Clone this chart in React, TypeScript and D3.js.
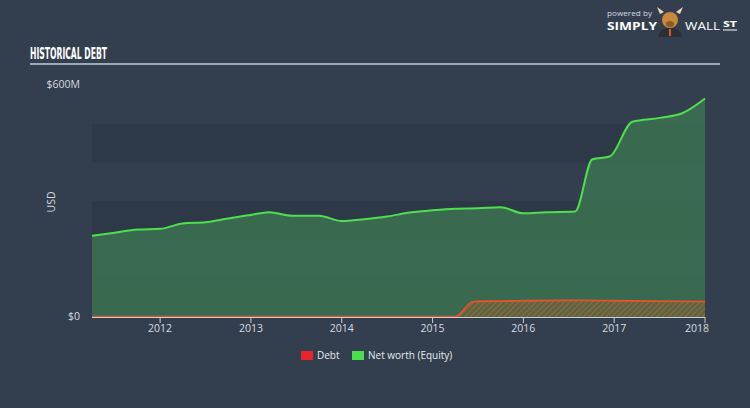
import React from "react";
import * as d3 from "d3";

const netYears = [2011.25, 2011.5, 2011.75, 2012.0, 2012.25, 2012.5, 2012.75, 2013.0, 2013.2, 2013.45, 2013.75, 2014.0, 2014.25, 2014.5, 2014.75, 2015.0, 2015.25, 2015.5, 2015.75, 2016.0, 2016.25, 2016.57, 2016.76, 2016.95, 2017.2, 2017.5, 2017.75, 2018.0];
const netValues = [210, 218, 226, 228, 242, 245, 255, 264, 271, 262, 262, 248, 253, 260, 270, 276, 280, 281, 284, 268, 271, 273, 408, 415, 505, 515, 527, 565];
const debtYears = [2011.25, 2012.0, 2013.0, 2014.0, 2015.0, 2015.25, 2015.45, 2015.75, 2016.0, 2016.5, 2017.0, 2017.5, 2018.0];
const debtValues = [1, 1, 1, 1, 1, 1, 40, 41, 42, 43, 42, 41, 40];
const yearTicks = [2012, 2013, 2014, 2015, 2016, 2017, 2018];
const bandStarts = [0, 200, 400];

const W = 750, H = 408;

export default function App() {
  const x = d3.scaleLinear().domain([2011.25, 2018.0]).range([92, 705]);
  const y = d3.scaleLinear().domain([0, 600]).range([317, 85]);
  const net = netYears.map((t, i) => ({ t, v: netValues[i] }));
  const debt = debtYears.map((t, i) => ({ t, v: debtValues[i] }));
  const area = d3.area<{ t: number; v: number }>().x(d => x(d.t)).y0(y(0)).y1(d => y(d.v)).curve(d3.curveMonotoneX);
  const line = d3.line<{ t: number; v: number }>().x(d => x(d.t)).y(d => y(d.v)).curve(d3.curveMonotoneX);
  const font = "'Open Sans', 'DejaVu Sans', sans-serif";
  return (
    <svg width={W} height={H} style={{ position: "absolute", left: 0, top: 0, display: "block" }}>
      <defs>
        <pattern id="hatch" width="4" height="4" patternUnits="userSpaceOnUse" patternTransform="rotate(45)">
          <rect width="4" height="4" fill="#4f6a45" />
          <line x1="0" y1="0" x2="0" y2="4" stroke="#d9542c" strokeWidth="1.6" />
        </pattern>
      </defs>
      <rect width={W} height={H} fill="#333f4f" />
      {/* header */}
      <text x={30} y={59} fill="#ffffff" fontFamily="'DejaVu Sans Condensed', 'Liberation Sans Narrow', sans-serif" fontWeight="bold" fontSize={16} textLength={77} lengthAdjust="spacingAndGlyphs">HISTORICAL DEBT</text>
      <line x1={30} x2={720} y1={64} y2={64} stroke="#c6ced8" strokeWidth={1.5} />
      {/* logo */}
      <text x={607} y={16} fill="#d6dbe0" fontFamily={font} fontSize={8} textLength={45} lengthAdjust="spacingAndGlyphs">powered by</text>
      <text x={607} y={30} fill="#ffffff" fontFamily={font} fontWeight="bold" fontSize={11} textLength={50} lengthAdjust="spacingAndGlyphs">SIMPLY</text>
      <g>
        <path d="M660 14 L657 7 L664 12 Z M680 14 L683 7 L676 12 Z" fill="#e8d9b8" />
        <ellipse cx={670} cy={20} rx={8} ry={8} fill="#c8893a" />
        <ellipse cx={670} cy={24} rx={4} ry={3} fill="#8a5a2a" />
        <path d="M658 37 Q660 27 670 28 Q680 27 682 37 Z" fill="#2a2f35" />
        <path d="M669 29 L671 29 L671 36 L669 36 Z" fill="#e4532b" />
      </g>
      <text x={685} y={30} fill="#ffffff" fontFamily={font} fontSize={11} textLength={35} lengthAdjust="spacingAndGlyphs">WALL</text>
      <text x={723} y={27} fill="#ffffff" fontFamily={font} fontWeight="bold" fontSize={8} textLength={14} lengthAdjust="spacingAndGlyphs">ST</text>
      <line x1={723} x2={737} y1={30} y2={30} stroke="#ffffff" strokeWidth={1} />
      {/* bands */}
      {bandStarts.map(b => (
        <rect key={b} x={92} width={613} y={y(b + 100)} height={y(b) - y(b + 100)} fill="#2e3947" />
      ))}
      {/* y labels */}
      <text x={80} y={88} textAnchor="end" fill="#d6dbe0" fontFamily={font} fontSize={10.5}>$600M</text>
      <text x={80} y={320} textAnchor="end" fill="#d6dbe0" fontFamily={font} fontSize={10.5}>$0</text>
      <text transform="translate(55,202) rotate(-90)" textAnchor="middle" fill="#d6dbe0" fontFamily={font} fontSize={10.5}>USD</text>
      {/* net worth */}
      <path d={area(net) || ""} fill="#3d7a52" fillOpacity={0.75} />
      <path d={line(net) || ""} fill="none" stroke="#4fe04d" strokeWidth={2} />
      {/* debt */}
      <path d={area(debt) || ""} fill="url(#hatch)" />
      <path d={line(debt) || ""} fill="none" stroke="#e4532b" strokeWidth={1.8} />
      {/* x axis */}
      <line x1={92} x2={705} y1={317.5} y2={317.5} stroke="#c6ced8" strokeWidth={1} />
      {yearTicks.map(t => (
        <g key={t}>
          <line x1={x(t)} x2={x(t)} y1={317} y2={323} stroke="#c6ced8" strokeWidth={1} />
          <text x={t === 2018 ? x(t) - 8 : x(t)} y={332} textAnchor="middle" fill="#d6dbe0" fontFamily={font} fontSize={10.5}>{t}</text>
        </g>
      ))}
      {/* legend */}
      <rect x={301} y={351} width={12} height={9} fill="#e8242b" />
      <text x={317} y={359} fill="#e6e9ec" fontFamily={font} fontSize={10}>Debt</text>
      <rect x={352} y={351} width={12} height={9} fill="#4be04b" />
      <text x={368} y={359} fill="#e6e9ec" fontFamily={font} fontSize={10}>Net worth (Equity)</text>
    </svg>
  );
}
